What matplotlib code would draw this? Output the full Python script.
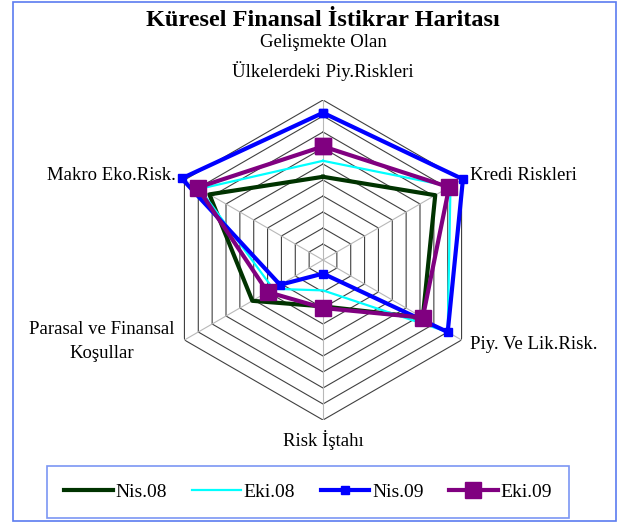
import numpy as np
import matplotlib
matplotlib.use('Agg')
import matplotlib.pyplot as plt
from matplotlib.patches import Rectangle

plt.rcParams['font.family'] = ['Liberation Serif', 'DejaVu Serif']

# eksenler (saat yönünde, üstten başlayarak)
categories = ['Gelişmekte Olan\nÜlkelerdeki Piy.Riskleri', 'Kredi Riskleri', 'Piy. Ve Lik.Risk.',
              'Risk İştahı', 'Parasal ve Finansal\nKoşullar', 'Makro Eko.Risk.']
nis08 = [5.2, 8.1, 7.2, 2.9, 5.1, 8.2]
eki08 = [6.2, 9.2, 9.0, 1.9, 3.6, 8.9]
nis09 = [9.2, 10.1, 9.0, 0.85, 3.1, 10.2]
eki09 = [7.1, 9.1, 7.2, 3.0, 4.0, 9.05]
series_names = ['Nis.08', 'Eki.08', 'Nis.09', 'Eki.09']

n = len(categories)
theta = np.arange(n) * 2 * np.pi / n
theta_c = np.append(theta, theta[0])

W, H = 625, 523
fig = plt.figure(figsize=(W / 100, H / 100), dpi=100)
fig.patches.append(Rectangle((13 / W, 1 - 521 / H), 603 / W, 519 / H, transform=fig.transFigure,
                             fill=False, edgecolor='#5b7cf0', lw=1.2))

cx, cy, R = 323, 260, 160
ax = fig.add_axes([(cx - R) / W, 1 - (cy + R) / H, 2 * R / W, 2 * R / H], projection='polar')
ax.set_theta_offset(np.pi / 2)
ax.set_theta_direction(-1)
ax.set_ylim(0, 10)
ax.grid(False)
ax.set_xticks([])
ax.set_yticks([])
ax.spines['polar'].set_visible(False)
ax.patch.set_alpha(0)

# altıgen ızgara
for r in range(1, 11):
    ax.plot(theta_c, [r] * (n + 1), color='#404040', lw=0.8, zorder=1)
for t in theta:
    ax.plot([t, t], [0, 10], color='#b8b8b8', lw=0.8, zorder=1)

def close(v):
    return list(v) + [v[0]]

ax.plot(theta_c, close(nis08), color='#003300', lw=3, label=series_names[0], zorder=3, clip_on=False)
ax.plot(theta_c, close(eki08), color='#00ffff', lw=1.6, label=series_names[1], zorder=3, clip_on=False)
ax.plot(theta_c, close(nis09), color='#0000ff', lw=3, marker='s', ms=6, label=series_names[2],
        zorder=4, clip_on=False)
ax.plot(theta_c, close(eki09), color='#800080', lw=3, marker='s', ms=11, label=series_names[3],
        zorder=5, clip_on=False)

# eksen etiketleri
fs = 13.5
ax.text(theta[0], 11.2, categories[0], ha='center', va='bottom', fontsize=fs, linespacing=1.6)
ax.text(theta[1], 10.6, categories[1], ha='left', va='center', fontsize=fs)
ax.text(theta[2], 10.6, categories[2], ha='left', va='center', fontsize=fs)
ax.text(theta[3], 10.6, categories[3], ha='center', va='top', fontsize=fs)
ax.annotate(categories[4], (theta[4], 10.7), xytext=(0, 3), textcoords='offset points',
            ha='right', va='center', fontsize=fs, linespacing=1.6, multialignment='center',
            annotation_clip=False)
ax.text(theta[5], 10.6, categories[5], ha='right', va='center', fontsize=fs)

fig.text(cx / W, 1 - 21 / H, 'Küresel Finansal İstikrar Haritası', ha='center', va='center',
         fontsize=17.5, fontweight='bold')

leg = fig.legend(loc='center', bbox_to_anchor=(308 / W, 1 - 492 / H), ncol=4, fontsize=14,
                 frameon=True, fancybox=False, handlelength=2.5, columnspacing=1.3,
                 handletextpad=0.15, borderpad=0.9)
leg.get_frame().set_edgecolor('#5b7cf0')
leg.get_frame().set_linewidth(1.2)

fig.savefig('out.png', dpi=100)
